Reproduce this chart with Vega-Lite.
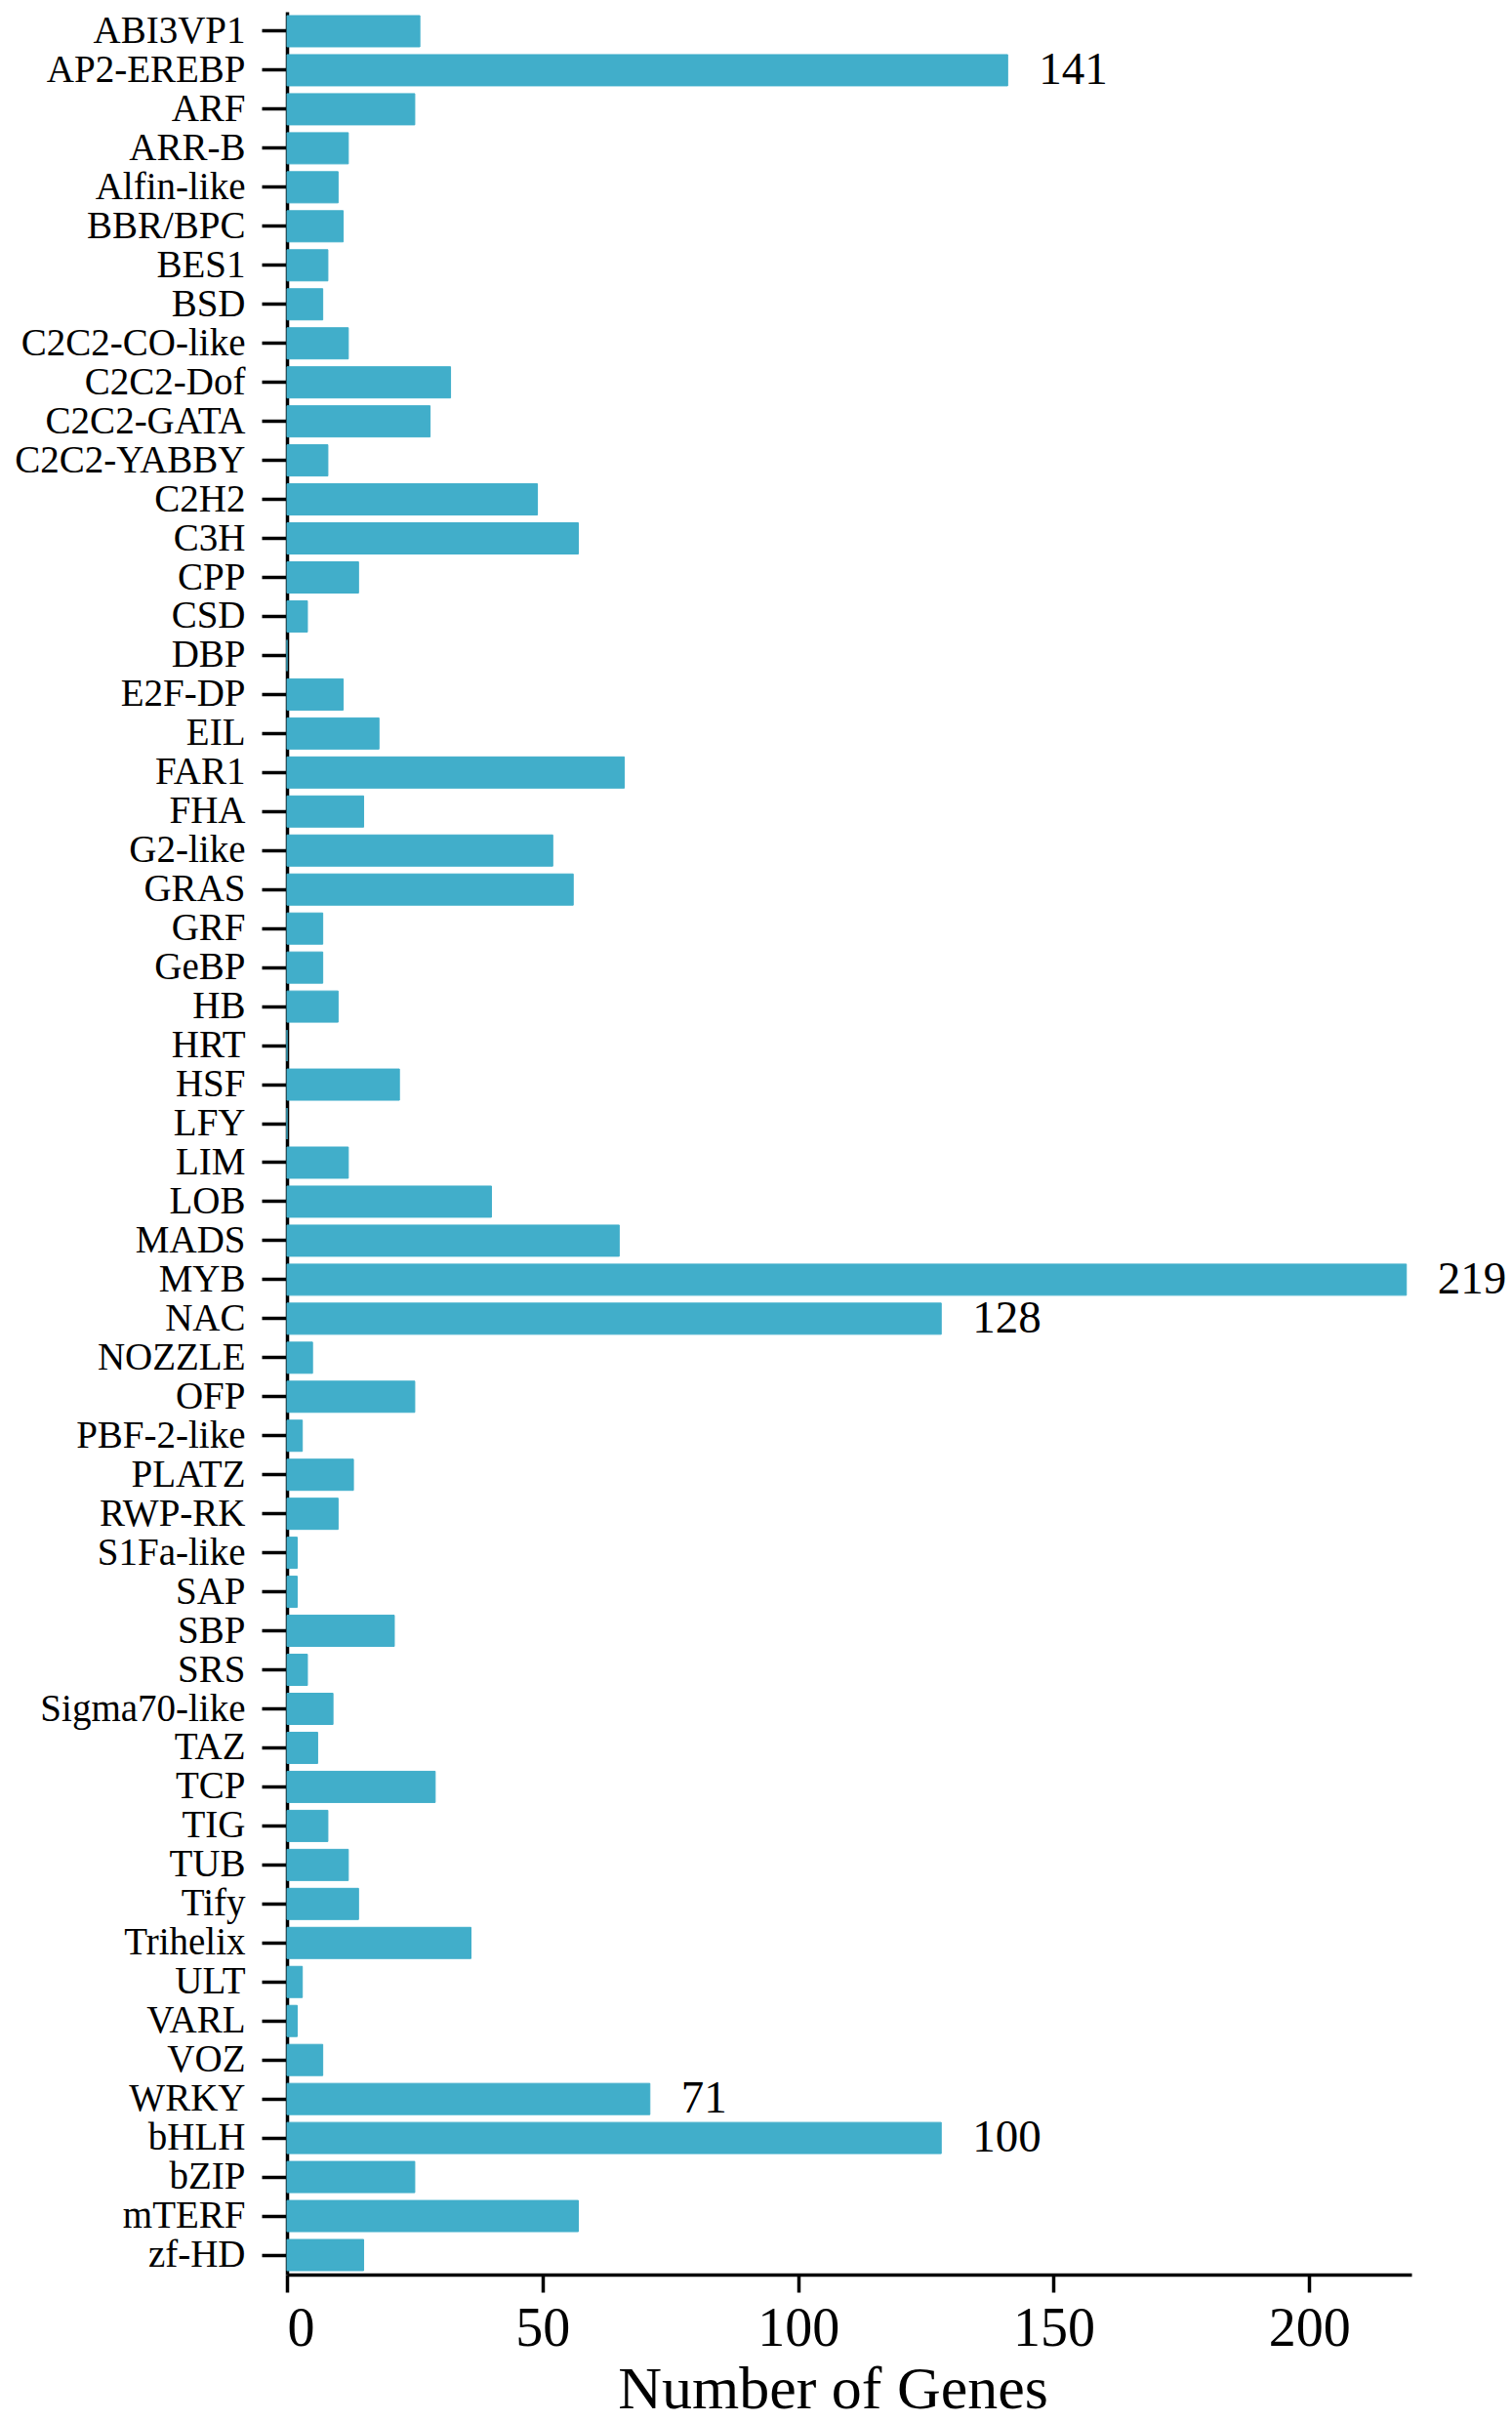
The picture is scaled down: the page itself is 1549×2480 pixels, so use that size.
{
  "$schema": "https://vega.github.io/schema/vega-lite/v6.json",
  "autosize": {"type": "none"},
  "padding": {"left": 294, "top": 12, "right": 103, "bottom": 150},
  "width": 1152,
  "height": 2318,
  "background": "white",
  "data": {
    "values": [
      {"family": "ABI3VP1", "genes": 26},
      {"family": "AP2-EREBP", "genes": 141, "label": "141"},
      {"family": "ARF", "genes": 25},
      {"family": "ARR-B", "genes": 12},
      {"family": "Alfin-like", "genes": 10},
      {"family": "BBR/BPC", "genes": 11},
      {"family": "BES1", "genes": 8},
      {"family": "BSD", "genes": 7},
      {"family": "C2C2-CO-like", "genes": 12},
      {"family": "C2C2-Dof", "genes": 32},
      {"family": "C2C2-GATA", "genes": 28},
      {"family": "C2C2-YABBY", "genes": 8},
      {"family": "C2H2", "genes": 49},
      {"family": "C3H", "genes": 57},
      {"family": "CPP", "genes": 14},
      {"family": "CSD", "genes": 4},
      {"family": "DBP", "genes": 0},
      {"family": "E2F-DP", "genes": 11},
      {"family": "EIL", "genes": 18},
      {"family": "FAR1", "genes": 66},
      {"family": "FHA", "genes": 15},
      {"family": "G2-like", "genes": 52},
      {"family": "GRAS", "genes": 56},
      {"family": "GRF", "genes": 7},
      {"family": "GeBP", "genes": 7},
      {"family": "HB", "genes": 10},
      {"family": "HRT", "genes": 0},
      {"family": "HSF", "genes": 22},
      {"family": "LFY", "genes": 0},
      {"family": "LIM", "genes": 12},
      {"family": "LOB", "genes": 40},
      {"family": "MADS", "genes": 65},
      {"family": "MYB", "genes": 219, "label": "219"},
      {"family": "NAC", "genes": 128, "label": "128"},
      {"family": "NOZZLE", "genes": 5},
      {"family": "OFP", "genes": 25},
      {"family": "PBF-2-like", "genes": 3},
      {"family": "PLATZ", "genes": 13},
      {"family": "RWP-RK", "genes": 10},
      {"family": "S1Fa-like", "genes": 2},
      {"family": "SAP", "genes": 2},
      {"family": "SBP", "genes": 21},
      {"family": "SRS", "genes": 4},
      {"family": "Sigma70-like", "genes": 9},
      {"family": "TAZ", "genes": 6},
      {"family": "TCP", "genes": 29},
      {"family": "TIG", "genes": 8},
      {"family": "TUB", "genes": 12},
      {"family": "Tify", "genes": 14},
      {"family": "Trihelix", "genes": 36},
      {"family": "ULT", "genes": 3},
      {"family": "VARL", "genes": 2},
      {"family": "VOZ", "genes": 7},
      {"family": "WRKY", "genes": 71, "label": "71"},
      {"family": "bHLH", "genes": 128, "label": "100"},
      {"family": "bZIP", "genes": 25},
      {"family": "mTERF", "genes": 57},
      {"family": "zf-HD", "genes": 15}
    ]
  },
  "encoding": {
    "y": {
      "field": "family",
      "type": "nominal",
      "sort": null,
      "title": null,
      "scale": {"paddingInner": 0.2, "paddingOuter": 0.1},
      "axis": {
        "labelFontSize": 39,
        "labelLimit": 0,
        "tickSize": 26,
        "labelPadding": 17
      }
    },
    "x": {
      "field": "genes",
      "type": "quantitative",
      "title": "Number of Genes",
      "scale": {"domain": [0, 220], "nice": false},
      "axis": {
        "values": [0, 50, 100, 150, 200],
        "labelFontSize": 56,
        "tickSize": 18,
        "labelPadding": 10,
        "titleFontSize": 62,
        "titleFontWeight": "normal",
        "titleBaseline": "alphabetic",
        "titleAlign": "center",
        "titleX": 559,
        "titleY": 136
      }
    }
  },
  "layer": [
    {
      "mark": {"type": "bar", "color": "#41AECA", "stroke": "#41AECA", "strokeWidth": 1}
    },
    {
      "transform": [{"filter": "datum.label"}],
      "mark": {
        "type": "text",
        "align": "left",
        "baseline": "middle",
        "dx": 32,
        "font": "Liberation Serif",
        "fontSize": 47,
        "color": "black"
      },
      "encoding": {"text": {"field": "label"}}
    }
  ],
  "config": {
    "view": {"stroke": null},
    "font": "Liberation Serif",
    "axis": {
      "grid": false,
      "domainColor": "black",
      "domainWidth": 3.5,
      "tickColor": "black",
      "tickWidth": 3.5,
      "labelColor": "black",
      "titleColor": "black",
      "labelFont": "Liberation Serif",
      "titleFont": "Liberation Serif"
    }
  }
}
